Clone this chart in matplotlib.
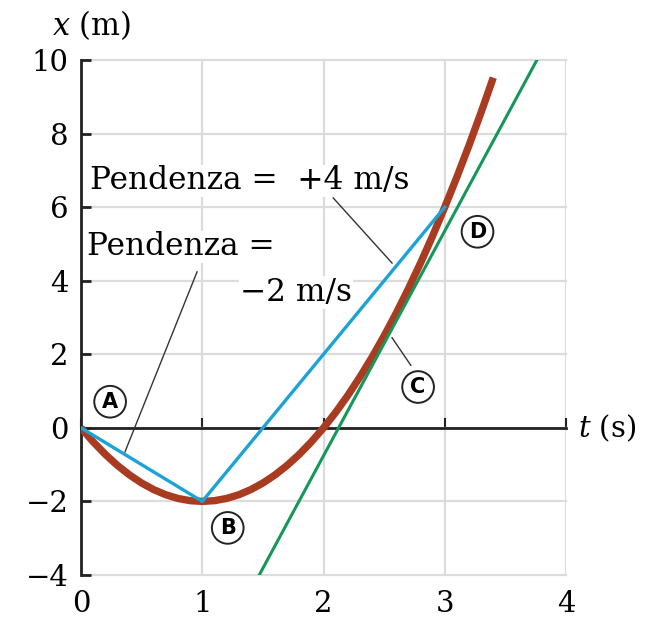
import matplotlib

matplotlib.use("Agg")
import matplotlib.pyplot as plt

# position-time samples of the particle (s, m)
time_s = [0.0, 0.1, 0.2, 0.3, 0.4, 0.5, 0.6, 0.7, 0.8, 0.9, 1.0, 1.1, 1.2,
          1.3, 1.4, 1.5, 1.6, 1.7, 1.8, 1.9, 2.0, 2.1, 2.2, 2.3, 2.4, 2.5,
          2.6, 2.7, 2.8, 2.9, 3.0, 3.1, 3.2, 3.3, 3.4]
position_m = [0.0, -0.38, -0.72, -1.02, -1.28, -1.5, -1.68, -1.82, -1.92,
              -1.98, -2.0, -1.98, -1.92, -1.82, -1.68, -1.5, -1.28, -1.02,
              -0.72, -0.38, 0.0, 0.42, 0.88, 1.38, 1.92, 2.5, 3.12, 3.78,
              4.48, 5.22, 6.0, 6.82, 7.68, 8.58, 9.52]

# secant segments A-B and B-D
secant_t = [0.0, 1.0, 3.0]
secant_x = [0.0, -2.0, 6.0]

# tangent at C
tangent_t = [1.47, 3.76]
tangent_x = [-4.0, 10.0]

# circled point labels
point_names = ["A", "B", "C", "D"]
point_t = [0.24, 1.21, 2.78, 3.27]
point_x = [0.71, -2.72, 1.11, 5.33]

t_ticks = [0, 1, 2, 3, 4]
x_ticks = [-4, -2, 0, 2, 4, 6, 8, 10]

SERIF = "DejaVu Serif"
plt.rcParams["mathtext.fontset"] = "dejavuserif"

fig = plt.figure(figsize=(6.46, 6.19), dpi=100)
ax = fig.add_axes([0.1254, 0.0711, 0.7508, 0.8320])
ax.set_xlim(0, 4)
ax.set_ylim(-4, 10)

ax.set_xticks(t_ticks)
ax.set_yticks(x_ticks)
ax.grid(color="#dcdcdc", lw=1.6, zorder=0)
for gl in ax.get_xgridlines() + ax.get_ygridlines():
    gl.set_clip_on(False)

for side in ("top", "right"):
    ax.spines[side].set_visible(False)
ax.spines["left"].set_linewidth(2.0)
ax.spines["left"].set_color("#222222")
ax.spines["bottom"].set_position(("data", 0))
ax.spines["bottom"].set_linewidth(2.0)
ax.spines["bottom"].set_color("#222222")

ax.tick_params(axis="y", direction="in", length=7, width=2, color="#222222",
               labelsize=21, pad=9)
ax.tick_params(axis="x", direction="in", length=7, width=1.5, color="#222222",
               labelbottom=False)
for lab in ax.get_yticklabels():
    lab.set_fontfamily(SERIF)

# t labels sit under the bottom edge, not on the t axis
sec = ax.secondary_xaxis(0.0)
sec.set_xticks(t_ticks)
sec.spines["bottom"].set_visible(False)
sec.tick_params(length=0, labelsize=21, pad=11)
for lab in sec.get_xticklabels():
    lab.set_fontfamily(SERIF)

ax.plot(time_s, position_m, color="#a93c20", lw=5.3, solid_capstyle="butt",
        zorder=3)
ax.plot(tangent_t, tangent_x, color="#13985a", lw=2.2, zorder=4)
ax.plot(secant_t, secant_x, color="#1aa3d4", lw=2.4, zorder=5)

# leader lines for the annotations
ax.plot([2.08, 2.565], [6.25, 4.48], color="#333333", lw=1.0, zorder=6)
ax.plot([0.957, 0.363], [4.24, -0.65], color="#333333", lw=1.0, zorder=6)
ax.plot([2.565, 2.72], [2.45, 1.7], color="#333333", lw=1.0, zorder=6)

label_box = dict(fc="white", ec="none", pad=0.5)
ax.text(0.074, 6.72, "Pendenza =  +4 m/s", family=SERIF, fontsize=22.5,
        va="center", ha="left", zorder=7, bbox=label_box)
ax.text(0.05, 4.92, "Pendenza =", family=SERIF, fontsize=22.5,
        va="center", ha="left", zorder=7, bbox=label_box)
ax.text(2.235, 3.68, "\u22122 m/s", family=SERIF, fontsize=22.5,
        va="center", ha="right", zorder=7, bbox=label_box)

for name, t, x in zip(point_names, point_t, point_x):
    ax.text(t, x, name, family="DejaVu Sans", fontsize=15, fontweight="bold",
            ha="center", va="center", zorder=8,
            bbox=dict(boxstyle="circle,pad=0.28", fc="white", ec="#222222",
                      lw=1.4))

ax.text(-0.06, 1.068, r"$x$ (m)", transform=ax.transAxes, family=SERIF,
        fontsize=22, ha="left", va="center")
ax.text(1.025, 0, r"$t$ (s)", transform=ax.get_yaxis_transform(),
        family=SERIF, fontsize=21, ha="left", va="center")

fig.savefig("out.png", dpi=100)
plt.close(fig)
